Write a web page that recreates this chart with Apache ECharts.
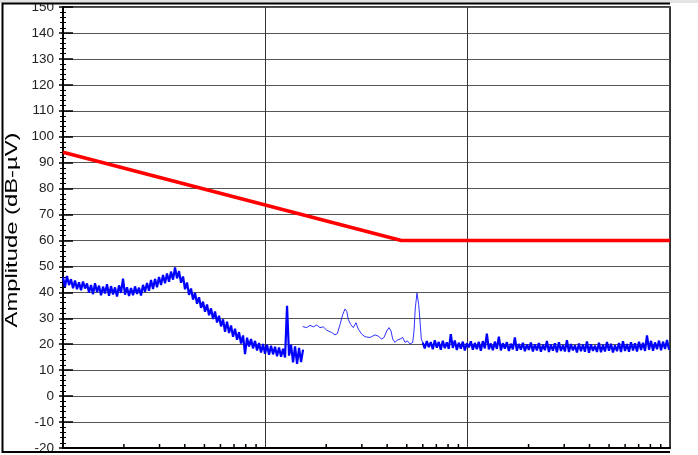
<!DOCTYPE html>
<html>
<head>
<meta charset="utf-8">
<script src="https://cdn.jsdelivr.net/npm/echarts@6/dist/echarts.min.js"></script>
<style>
html,body{margin:0;padding:0;background:#fff;}
#chart{width:698px;height:455px;}
</style>
</head>
<body>
<div id="chart"></div>
<script>
// ---- data (frequency in MHz, amplitude in dB-µV) ----
const yTicks = [-20,-10,0,10,20,30,40,50,60,70,80,90,100,110,120,130,140,150];
const xMinorTicks = [0.02,0.03,0.04,0.05,0.06,0.07,0.08,0.09,
                     0.2,0.3,0.4,0.5,0.6,0.7,0.8,0.9,
                     2,3,4,5,6,7,8,9];
const limitFreq = [0.01, 0.47, 10];
const limitAmp  = [94, 60, 60];

// sweep 1 (dense trace, low band)
const seg1Start = 0.01, seg1Stop = 0.1536;
const seg1Amp = [45.8,42.1,46.3,42.8,45.1,41.6,44.6,41.2,43.9,40.8,
  44.2,41.5,43.4,39.9,42.8,39.3,43.5,40.1,42.6,38.9,
  42.2,39.6,43.1,38.7,42.4,39.2,41.9,38.4,42.7,39.8,
  45.3,39.1,42.0,38.6,41.7,38.9,42.3,39.4,41.8,38.8,
  42.9,40.2,43.6,40.6,44.8,41.3,45.2,42.0,45.9,42.8,
  46.7,43.5,47.3,44.1,48.0,44.9,49.6,45.4,48.2,43.7,
  46.1,41.2,43.8,39.0,41.5,37.2,39.8,35.6,38.1,34.0,
  36.4,32.5,35.3,31.2,33.8,29.7,32.6,28.4,31.0,26.9,
  29.6,24.8,28.7,24.3,27.2,22.9,26.0,21.7,24.6,20.3,
  23.4,16.2,22.5,19.1,22.0,18.4,21.3,17.6,20.5,16.8,
  20.1,16.3,19.8,15.9,19.4,16.1,19.0,15.4,18.7,15.2,
  18.3,14.9,34.8,15.6,19.8,13.0,19.2,12.4,18.6,13.1,17.9];

// sweep 2 (thin trace)
const seg2Freq = [0.1530,0.1602,0.1663,0.1727,0.1795,0.1863,0.1934,0.2010,0.2128,0.2210,
  0.2269,0.2339,0.2412,0.2476,0.2525,0.2571,0.2642,0.2722,0.2806,0.2881,
  0.2995,0.3109,0.3291,0.3483,0.3617,0.3759,0.3859,0.3980,0.4085,0.4180,
  0.4261,0.4374,0.4490,0.4630,0.4775,0.4901,0.5031,0.5188,0.5350,0.5430,
  0.5511,0.5618,0.5728,0.5813,0.5900,0.6036];
const seg2Amp = [26.8,26.4,27.3,26.7,27.4,26.4,26.7,25.4,24.5,23.6,
  24.1,27.6,31.4,33.6,32.7,29.5,27.6,26.4,28.3,25.8,
  23.9,22.9,22.6,23.6,23.1,22.0,22.6,25.1,26.4,25.1,
  22.0,20.7,21.6,22.0,22.6,20.7,21.3,20.1,20.7,25.1,
  34.0,39.7,35.3,29.0,22.0,20.1];

// sweep 3 (dense trace, high band)
const seg3Start = 0.6, seg3Stop = 9.89;
const seg3Amp = [20.6,18.4,21.2,18.9,20.8,18.1,21.5,18.7,20.9,17.9,
  21.3,18.5,20.7,18.2,23.9,18.6,21.4,17.8,20.6,18.3,
  21.0,17.6,20.4,18.8,21.1,17.9,20.5,18.1,20.9,17.5,
  21.2,18.4,24.1,18.0,20.3,17.7,21.0,18.2,22.9,17.6,
  20.4,18.3,20.8,17.4,20.2,18.0,22.6,17.5,20.1,17.9,
  20.6,17.3,19.9,17.8,20.7,17.2,20.0,17.6,20.5,17.1,
  19.8,17.7,21.3,17.0,19.9,17.5,20.4,16.9,20.8,17.4,
  19.7,17.2,21.6,17.0,20.1,17.6,19.6,16.8,20.3,17.3,
  19.9,17.1,21.1,16.7,20.0,17.4,19.5,17.0,20.6,16.9,
  19.8,17.2,20.9,17.5,20.2,16.8,19.6,17.3,20.5,17.0,
  21.2,17.4,20.1,17.1,20.8,17.6,20.4,17.2,21.0,17.8,
  20.6,17.4,23.4,17.9,21.3,17.5,20.7,18.1,21.4,17.7,
  21.0,18.2,21.6,17.9];

function sweep(start, stop, amps) {
  const n = amps.length;
  return amps.map((v, k) => [start * Math.pow(stop / start, k / (n - 1)), v]);
}
function pairs(xs, ys) { return xs.map((x, i) => [x, ys[i]]); }

const chart = echarts.init(document.getElementById('chart'), null, {renderer: 'canvas'});
const W = 698, H = 455;
const gridL = 63, gridR = 670, gridT = 5, gridB = 452;

const yBase = {
  type: 'value', min: -20, max: 150, interval: 10, position: 'left',
  axisLine: {show: true, onZero: false, lineStyle: {color: '#000', width: 1.5}},
};

const option = {
  animation: false,
  backgroundColor: '#fff',
  grid: {left: gridL, right: W - gridR, top: gridT, bottom: H - gridB,
         show: true, borderColor: '#000', borderWidth: 1.5, backgroundColor: '#fff'},
  xAxis: {
    type: 'log', logBase: 10, min: 0.01, max: 10,
    axisLine: {show: true, onZero: false, lineStyle: {color: '#000', width: 2}},
    axisTick: {show: false}, axisLabel: {show: false},
    splitLine: {show: true, lineStyle: {color: '#333', width: 1}},
    minorTick: {show: false}, minorSplitLine: {show: false}
  },
  yAxis: [
    Object.assign({}, yBase, {
      axisTick: {show: true, inside: false, length: 4, lineStyle: {color: '#000', width: 1.5}},
      minorTick: {show: true, splitNumber: 5, length: 3, lineStyle: {color: '#000', width: 1}},
      axisLabel: {show: true, margin: 9, color: '#222', fontSize: 13.5,
                  fontFamily: 'Liberation Sans, Arial, sans-serif'},
      splitLine: {show: true, lineStyle: {color: '#555', width: 1.2}}
    }),
    Object.assign({}, yBase, {
      axisTick: {show: true, inside: true, length: 10, lineStyle: {color: '#000', width: 1.5}},
      minorTick: {show: true, splitNumber: 5, length: 3, lineStyle: {color: '#000', width: 1}},
      axisLabel: {show: false},
      splitLine: {show: false}
    })
  ],
  series: [
    {type: 'line', name: 'limit', data: pairs(limitFreq, limitAmp), showSymbol: false,
     lineStyle: {color: '#ff0000', width: 3.5}, z: 5},
    {type: 'line', name: 'sweep1', data: sweep(seg1Start, seg1Stop, seg1Amp), showSymbol: false,
     lineStyle: {color: '#0000ff', width: 2.2}, z: 4},
    {type: 'line', name: 'sweep2', data: pairs(seg2Freq, seg2Amp), showSymbol: false,
     lineStyle: {color: '#1a1aff', width: 0.9}, z: 4},
    {type: 'line', name: 'sweep3', data: sweep(seg3Start, seg3Stop, seg3Amp), showSymbol: false,
     lineStyle: {color: '#0000ff', width: 2.2}, z: 4},
    {type: 'custom', name: 'xminor', data: xMinorTicks.map(f => [f, -20]),
     encode: {x: 0, y: 1}, clip: false, z: 6,
     renderItem: function (params, api) {
       const p = api.coord([api.value(0), api.value(1)]);
       return {type: 'line', shape: {x1: p[0], y1: p[1], x2: p[0], y2: p[1] - 4},
               style: {stroke: '#000', lineWidth: 1.5}};
     }}
  ],
  graphic: [
    {type: 'rect', z: 100, shape: {x: 0, y: 0, width: W, height: 3}, style: {fill: '#e4e4e4'}},
    {type: 'rect', z: 100, shape: {x: 0, y: 453, width: W, height: 3}, style: {fill: '#fff'}},
    {type: 'polyline', z: 101, shape: {points: [[gridR, 3.5], [2.5, 3.5], [2.5, 452], [gridR, 452]]},
     style: {stroke: '#000', lineWidth: 2, fill: null}},
    {type: 'text', z: 101, x: 12, y: 230, rotation: Math.PI / 2, scaleX: 1.4,
     style: {text: 'Amplitude (dB-µV)', fill: '#000', fontSize: 17,
             fontFamily: 'Liberation Sans, Arial, sans-serif', align: 'center', verticalAlign: 'middle'}}
  ]
};
chart.setOption(option);
</script>
</body>
</html>
